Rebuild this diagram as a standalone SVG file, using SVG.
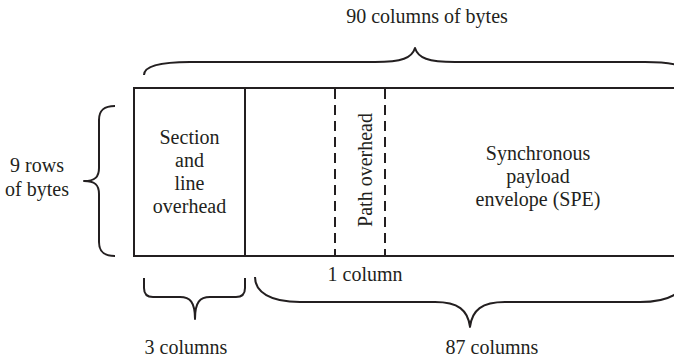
<svg xmlns="http://www.w3.org/2000/svg" width="674" height="359" viewBox="0 0 674 359">
<style>
text{font-family:"Liberation Serif","Times New Roman",serif;font-size:20px;fill:#231f20;text-anchor:middle}
.ln{fill:none;stroke:#231f20;stroke-width:2}
.dash{fill:none;stroke:#231f20;stroke-width:2;stroke-dasharray:10 6}
.brace{fill:none;stroke:#231f20;stroke-width:2;stroke-linejoin:round}
</style>
<rect width="674" height="359" fill="#ffffff"/>
<g id="frame">
<rect class="ln" x="134" y="88" width="560" height="168"/>
</g>
<g id="section-line-overhead">
<line class="ln" x1="245" y1="88" x2="245" y2="256"/>
<text x="189.5" y="144">Section</text>
<text x="189.5" y="167">and</text>
<text x="189.5" y="190">line</text>
<text x="189.5" y="213">overhead</text>
</g>
<g id="path-overhead">
<line class="dash" x1="335" y1="89" x2="335" y2="256"/>
<line class="dash" x1="385" y1="89" x2="385" y2="256"/>
<text transform="translate(372,170) rotate(-90)">Path overhead</text>
</g>
<g id="spe">
<text x="538" y="160">Synchronous</text>
<text x="538" y="183">payload</text>
<text x="538" y="206">envelope (SPE)</text>
</g>
<g id="label-90">
<text x="427" y="23">90 columns of bytes</text>
</g>
<g id="label-9rows">
<text x="37" y="172">9 rows</text>
<text x="37" y="196">of bytes</text>
</g>
<g id="label-1col">
<text x="365" y="281">1 column</text>
</g>
<g id="label-3col">
<text x="186" y="354">3 columns</text>
</g>
<g id="label-87col">
<text x="492" y="354">87 columns</text>
</g>
<g id="connectors">
<path class="brace" d="M144,75 C144,66 162,62 190,62 L375,62 C402,62 412,58 415,48 C418,58 428,62 455,62 L645,62 C672,62 690,66 690,75"/>
<path class="brace" d="M115,106 C104,106 99,110 99,120 L99,168 C99,177 95,181 84,181 C95,181 99,185 99,194 L99,242 C99,252 104,256 115,256"/>
<path class="brace" d="M144,278 L144,288 C144,294 147,297 153,297 L180,297 C190,297 195,302 195,319 C195,302 200,297 210,297 L236,297 C242,297 245,294 245,288 L245,278"/>
<path class="brace" d="M255,277 C255,292 270,302 300,302 L435,302 C458,302 468,310 470,327 C472,310 482,302 505,302 L640,302 C670,302 685,292 685,277"/>
</g>
</svg>
